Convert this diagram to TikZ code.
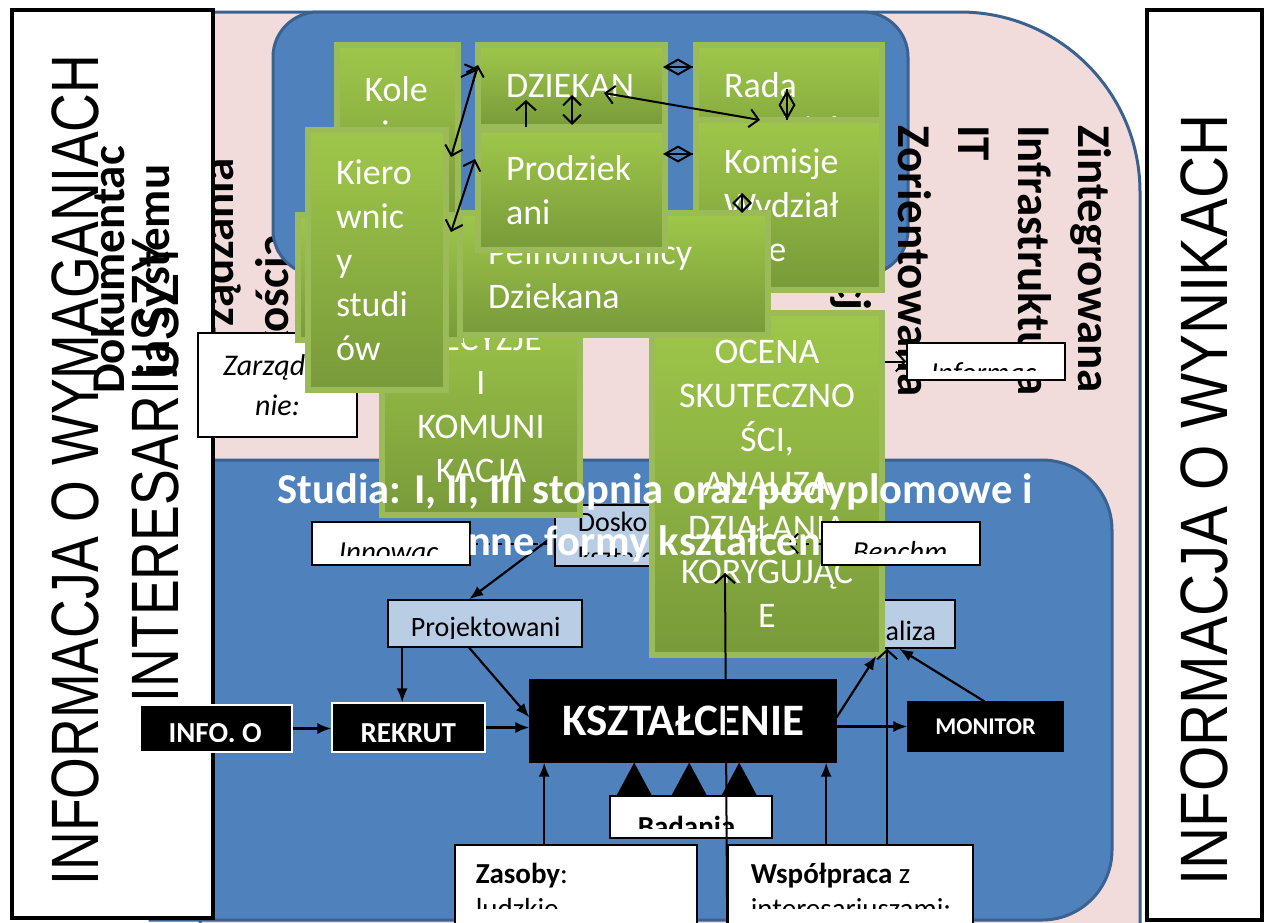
\documentclass[tikz,border=0pt]{standalone}
\usepackage{fontspec}
\setmainfont{Carlito}
\newfontfamily\narrowfont{Liberation Sans}
\usepackage{graphicx}
\usetikzlibrary{arrows.meta,calc,positioning}

\definecolor{pinkbg}{HTML}{F2DCDB}
\definecolor{blueA}{HTML}{4F81BD}
\definecolor{blueD}{HTML}{3A6291}
\definecolor{lblue}{HTML}{B9CDE5}
\definecolor{gtop}{HTML}{9FC74A}
\definecolor{gbot}{HTML}{789A3A}
\definecolor{gborder}{HTML}{9BBB59}

\newcommand{\fsz}[2]{\fontsize{#1}{#2}\selectfont}
\newcommand{\ppclip}[1]{\clip ([yshift=#1pt]path picture bounding box.south west) rectangle (path picture bounding box.north east);}
\newcommand{\pptext}[4][]{\node[anchor=base west, inner sep=0pt, draw=none, fill=none,
  minimum width=0pt, minimum height=0pt, path picture={}, #1]
  at ([xshift=#2pt, yshift=#3pt]path picture bounding box.south west) {#4};}

\begin{document}
\begin{tikzpicture}[x=1pt, y=-1pt,
  font=\fsz{29}{35},
  gbox/.style n args={3}{draw=gborder, line width=6pt, top color=gtop,
        bottom color=gbot, text=white, align=left, inner sep=0pt,
        font=\fsz{36}{44},
        minimum width=#1pt, minimum height=#2pt, text width=#3pt},
  wbox/.style 2 args={draw, line width=1.6pt, fill=white, inner sep=0pt,
        minimum width=#1pt, minimum height=#2pt},
  lbox/.style 2 args={wbox={#1}{#2}, fill=lblue},
  kbox/.style 2 args={draw=white, line width=1.2pt, fill=black, text=white,
        inner sep=0pt, minimum width=#1pt, minimum height=#2pt},
  vtxt/.style={font=\bfseries\fsz{47}{#1}, inner sep=0pt},
  arr/.style={-{Latex[length=14pt, width=11pt]}, line width=2.2pt},
  barb/.style={-{Straight Barb[length=9pt, width=20pt]}, line width=2pt},
  dbarb/.style={{Straight Barb[length=9pt, width=18pt]}-{Straight Barb[length=9pt, width=18pt]}, line width=2pt},
  agg/.style={line width=2pt, postaction={draw, -{Diamond[open, length=30pt, width=17pt]}}},
  bigtip/.style={-{Triangle[length=34pt, width=36pt]}, line width=2pt},
  dashline/.style={dash pattern=on 7pt off 5pt},
]
\useasboundingbox (0,0) rectangle (1269,922);
\fill[white] (0,0) rectangle (1269,922);

%% --- Background areas ---
\draw[fill=pinkbg, draw=blueD, line width=3pt] (200,12) -- (960,12)
  arc[start angle=90, end angle=0, radius=180pt] -- (1140,925) -- (200,925) -- cycle;
\node[vtxt=55, rotate=90, align=left, anchor=north west] (zjtxt) at (200,389) {Zarządzania\\jakością};

\node[draw=blueD, line width=3pt, fill=blueA, rounded corners=45pt,
      minimum width=635pt, minimum height=263pt] (zarzadzanie) at (590.5,143.5) {};
\node[vtxt=60, rotate=-90, align=left, anchor=north west] (ittxt) at (1112,125)
      {Zintegrowana\\Infrastruktura\\IT\\Zorientowana\\informacji};

\draw[fill=blueA, draw=blueD, line width=3pt] (150,460) -- (1042,460)
  arc[start angle=90, end angle=0, radius=70pt] -- (1112,850)
  arc[start angle=0, end angle=-90, radius=70pt] -- (150,920) -- cycle;

%% --- Side boxes ---
\node[draw, line width=4.5pt, fill=white, minimum width=201pt, minimum height=908pt]
      (wymagania) at (112.5,464) {};
\node[rotate=90, font=\narrowfont\fsz{67}{80}, inner sep=0pt] (wymtxt) at (122,470)
      {\scalebox{0.8}[1]{\begin{tabular}{@{}c@{}}INFORMACJA O WYMAGANIACH\\INTERESARIUSZY\end{tabular}}};
\node[draw, line width=4.5pt, fill=white, minimum width=115pt, minimum height=910pt]
      (wyniki) at (1204.5,465) {};
\node[rotate=90, font=\narrowfont\fsz{67}{80}, inner sep=0pt] (wyntxt) at (1204,500)
      {\scalebox{0.87}[1]{INFORMACJA O WYNIKACH}};
\node[vtxt=45, rotate=90, align=center] (doktxt) at (134,270) {Dokumentac\\ja Systemu};

\node[wbox={159}{104}, align=center, font=\itshape\fsz{30}{40}] (zarzbox) at (277.5,385) {Zarządza\\nie:};
\node[wbox={158}{37}, path picture={\ppclip{10}\pptext[font=\itshape\fsz{29}{35}]{23}{-2}{Informac}}]
      (infobox) at (986,361.5) {};

%% --- Lower boxes ---
\node[wbox={158}{43}, path picture={\ppclip{10}\pptext[font=\itshape\fsz{29}{35}]{26}{4}{Innowac}}]
      (innow) at (391,543.5) {};
\node[lbox={232}{61}, path picture={\ppclip{10}\pptext[font=\fsz{28}{34}]{22}{35}{Doskonalenie}%
      \pptext[font=\fsz{28}{34}]{22}{0}{kształcenia}}] (dosk) at (671,535.5) {};
\node[lbox={194}{47}, path picture={\ppclip{9}\pptext[font=\fsz{28}{34}]{22}{11}{Projektowani}}]
      (proj) at (485,623.5) {};
\node[lbox={120}{48}, path picture={\ppclip{0}\pptext[font=\fsz{28}{34}]{19}{8}{Analiza}}]
      (anal) at (895,624) {};
\node[kbox={152}{47}, path picture={\ppclip{11}\pptext[font=\bfseries\fsz{29}{35}, text=white]{28}{10}{INFO. O}}]
      (info) at (216,728.5) {};
\node[kbox={153}{49}, path picture={\ppclip{11}\pptext[font=\bfseries\fsz{29}{35}, text=white]{28}{10}{REKRUT}}]
      (rekrut) at (408.5,727.5) {};
\node[kbox={306}{82}, draw=black, font=\bfseries\fsz{45}{54}] (kszt) at (683,721) {KSZTAŁCENIE};
\node[kbox={155}{49}, draw=black, font=\bfseries\fsz{24}{29}] (monitor) at (985.5,726.5) {MONITOR};
\node[wbox={162}{42}, path picture={\ppclip{10}\pptext[font=\bfseries\fsz{29}{35}]{27}{2}{Badania}}]
      (badania) at (691,817) {};
\node[wbox={242}{85}, path picture={\ppclip{22}\pptext[font=\fsz{29}{35}]{20}{47}{\textbf{Zasoby}:}%
      \pptext[font=\fsz{29}{35}]{20}{12}{ludzkie}}] (zasoby) at (576,887.5) {};
\node[wbox={245}{85}, path picture={\ppclip{22}\pptext[font=\fsz{29}{35}]{22}{47}{\textbf{Współpraca} z}%
      \pptext[font=\fsz{29}{35}]{22}{12}{interesariuszami:}}] (wspol) at (850.5,887.5) {};

%% --- Green boxes (lower) ---
\node[gbox={198}{220}{170}, align=center] (decyzje) at (481,405) {DECYZJE\\I\\KOMUNI\\KACJA};
\node[gbox={230}{342}{200}, align=center] (ocena) at (767,484)
      {OCENA\\SKUTECZNO\\ŚCI,\\ANALIZA\\DZIAŁANIA\\KORYGUJĄC\\E};
\node[wbox={158}{43}, path picture={\ppclip{12}\pptext[font=\itshape\fsz{29}{35}]{30}{4}{Benchm}}]
      (benchm) at (901,543.5) {};

%% --- Lower arrows ---
\draw[arr] (info.east) -- (info.east -| rekrut.west);
\draw[arr] (rekrut.east) -- (rekrut.east -| kszt.west);
\coordinate (pr1) at ($(proj.south west)+(15,0)$);
\draw[arr] (pr1) -- (pr1 |- rekrut.north);
\draw[arr] ($(proj.south west)+(82,0)$) -- ($(kszt.north west)+(0,38)$);
\draw[arr] (dosk.west) -- ($(proj.north west)+(82,0)$);
\draw[line width=2pt, dashline] (innow.east) -- (innow.east -| dosk.west);
\draw[barb, dashline] (benchm.west) -- (benchm.west -| dosk.east);
\draw[arr] (kszt.east |- monitor.west) -- (monitor.west);
\draw[arr] ($(kszt.north east)+(0,38)$) -- ($(anal.south west)+(42,7)$);
\draw[arr] ($(monitor.north west)+(77,0)$) -- ($(anal.south west)+(65,0)$);
\coordinate (ws1) at ($(wspol.north west)+(160,0)$);
\draw[barb] (ws1) -- (ws1 |- anal.south);
\coordinate (ws2) at ($(wspol.north west)+(99,0)$);
\draw[arr] (ws2) -- (ws2 |- kszt.south);
\coordinate (zs1) at ($(zasoby.north west)+(90,0)$);
\draw[arr] (zs1) -- (zs1 |- kszt.south);
\foreach \dx in {25,80,130} {
  \coordinate (bd) at ($(badania.north west)+(\dx,0)$);
  \draw[bigtip] (bd) -- (bd |- kszt.south);
}
\coordinate (ocIn) at ($(ocena.south west)+(76,-85)$);
\draw[barb] (wspol.south west) -- (ocIn);
\draw[barb] (ocena.east |- infobox.west) -- (infobox.west);

%% --- Title ---
\node[text=white, font=\bfseries\fsz{42.5}{52}, align=center, inner sep=0pt] (tytul) at (655,518)
      {Studia: I, II, III stopnia oraz podyplomowe i\\inne formy kształcenia};

%% --- Green boxes (top) ---
\node[gbox={121}{175}{66}] (kole) at (397.5,132.5) {Kole\\giu\\m};
\node[gbox={162}{125}{106}] (ukryty) at (379,277.5) {};
\node[gbox={187}{82}{131}] (dziekan) at (571.5,86) {DZIEKAN};
\node[gbox={186}{130}{130}] (rada) at (789,110) {Rada\\Wydziału};
\node[gbox={186}{170}{130}] (komisje) at (789,205) {Komisje\\Wydział\\owe};
\node[gbox={308}{122}{252}] (pelnom) at (614,274) {Pełnomocnicy\\Dziekana};
\node[gbox={187}{120}{131}] (prodz) at (571.5,190) {Prodziek\\ani};
\node[gbox={138}{260}{82}] (kier) at (377,260) {Kiero\\wnic\\y\\studi\\ów};

%% --- Top arrows ---
\draw[dbarb] ($(kier.north east)+(2,30)$) -- ($(dziekan.north west)+(3,23)$);
\draw[dbarb] ($(kier.north east)+(2,105)$) -- ($(prodz.north west)+(0,32)$);
\draw[barb] ($(kole.north east)+(0,35)$) -- ($(dziekan.north west)+(3,27)$);
\draw[barb] ($(prodz.north west)+(51,0)$) -- ($(dziekan.south west)+(51,-30)$);
\draw[dbarb] ($(dziekan.south west)+(97,-35)$) -- ($(prodz.north west)+(97,-2)$);
\draw[dbarb] ($(dziekan.north west)+(129,51)$) -- ($(komisje.north west)+(67,3)$);
\draw[agg] ($(dziekan.north east)+(0,25)$) -- ($(rada.north west)+(0,25)$);
\draw[agg] ($(prodz.north east)+(0,27)$) -- ($(komisje.north west)+(0,37)$);
\draw[agg] ($(rada.north west)+(94,47)$) -- ($(komisje.north west)+(94,3)$);
\draw[dbarb] ($(komisje.north west)+(49,76)$) -- ($(komisje.north west)+(49,96)$);

\end{tikzpicture}
\end{document}
